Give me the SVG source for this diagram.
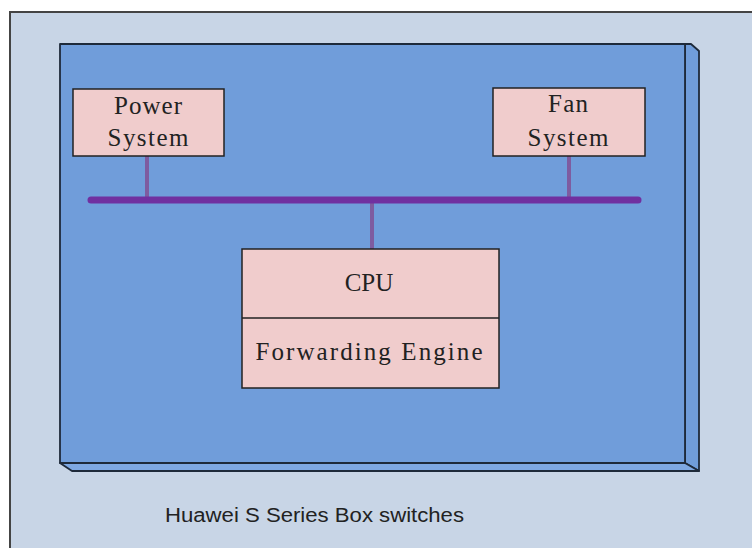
<svg xmlns="http://www.w3.org/2000/svg" width="752" height="548" viewBox="0 0 752 548">
<style>
.box{fill:#F0CCCC;stroke:#222;stroke-width:1.5}
.lbl{font-family:"Liberation Serif",serif;font-size:25px;fill:#222;text-anchor:middle}
.face{fill:#709DDA;stroke:#1E2A3A;stroke-width:1.8;stroke-linejoin:round}
.stub{stroke:#7E5CA0;stroke-width:4;fill:none}
.bus{stroke:#7030A0;stroke-width:7;stroke-linecap:round;fill:none}
</style>
<rect x="0" y="0" width="752" height="548" fill="#FFFFFF"/>
<rect x="10" y="12" width="750" height="545" fill="#C8D5E6" stroke="#444" stroke-width="2"/>
<g id="chassis">
<polygon class="face" points="685,44 691,44 699,51 699,471 685,463" fill="#75A0DB"/>
<polygon class="face" points="60,463 685,463 699,471 72,471" style="fill:#7EA8E2"/>
<rect class="face" x="60" y="44" width="625" height="419"/>
</g>
<g id="connectors">
<line class="stub" x1="147" y1="156" x2="147" y2="200"/>
<line class="stub" x1="569" y1="156" x2="569" y2="200"/>
<line class="stub" x1="372" y1="200" x2="372" y2="249"/>
<line class="bus" x1="91" y1="200" x2="638" y2="200"/>
</g>
<g id="power">
<rect class="box" x="73" y="89" width="151" height="67"/>
<text class="lbl" x="148" y="114" textLength="68" lengthAdjust="spacing">Power</text>
<text class="lbl" x="148" y="146" textLength="81" lengthAdjust="spacing">System</text>
</g>
<g id="fan">
<rect class="box" x="493" y="88" width="152" height="68"/>
<text class="lbl" x="568" y="112" textLength="40" lengthAdjust="spacing">Fan</text>
<text class="lbl" x="568" y="146" textLength="81" lengthAdjust="spacing">System</text>
</g>
<g id="cpu">
<rect class="box" x="242" y="249" width="257" height="139"/>
<line x1="242" y1="318" x2="499" y2="318" stroke="#222" stroke-width="1.5"/>
<text class="lbl" x="369" y="291">CPU</text>
<text class="lbl" x="369" y="360" textLength="227" lengthAdjust="spacing">Forwarding Engine</text>
</g>
<text x="165" y="521.5" font-family="'Liberation Sans',Arial,sans-serif" font-size="20" fill="#222" textLength="299" lengthAdjust="spacingAndGlyphs">Huawei S Series Box switches</text>
</svg>
